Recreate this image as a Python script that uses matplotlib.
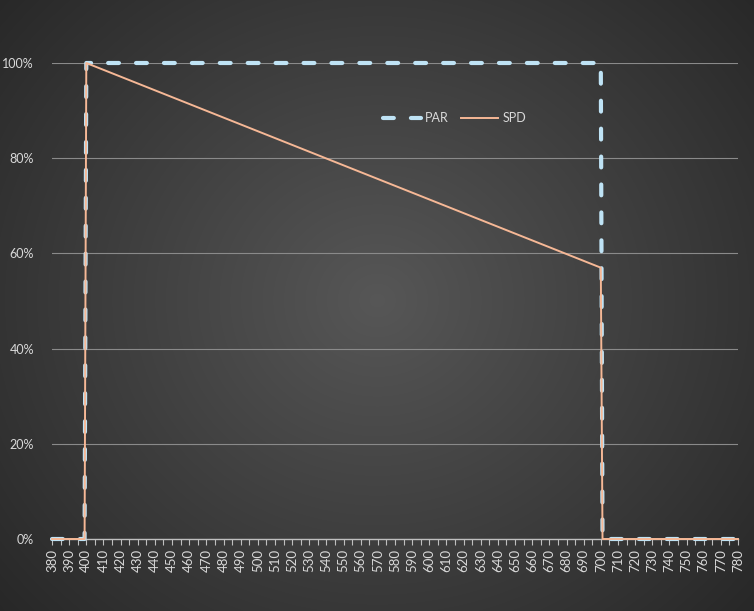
import matplotlib
matplotlib.use("Agg")
import matplotlib.pyplot as plt
import numpy as np
from matplotlib.ticker import MultipleLocator, PercentFormatter

plt.rcParams['font.family'] = ['Lato', 'DejaVu Sans']

# data (wavelength nm, relative %)
par_wl = [380, 399, 400, 700, 701, 780]
par_val = [0, 0, 100, 100, 0, 0]
spd_wl = [380, 399, 400, 700, 701, 780]
spd_val = [0, 0, 100, 57, 0, 0]

PAR_C = "#bfe3f5"
SPD_C = "#f6b896"
TXT = "#d9d9d9"
GRID = "#8a8a8a"

fig = plt.figure(figsize=(7.54, 6.11), dpi=100)

# radial gradient background
bg = fig.add_axes([0, 0, 1, 1], zorder=0)
bg.axis("off")
yy, xx = np.mgrid[0:611, 0:754]
r = np.sqrt(((xx - 377) / 520.0) ** 2 + ((yy - 300) / 480.0) ** 2)
r = np.clip(r, 0, 1)
lum = 0.34 - (0.34 - 0.15) * r
img = np.dstack([lum, lum, lum])
bg.imshow(img, extent=[0, 1, 0, 1], aspect="auto", origin="upper")
bg.set_xlim(0, 1); bg.set_ylim(0, 1)

ax = fig.add_axes([52/754, 1 - 539/611, 686/754, 476/611], zorder=1)
ax.patch.set_alpha(0)
for s in ax.spines.values():
    s.set_visible(False)
ax.spines["bottom"].set_visible(True)
ax.spines["bottom"].set_color("#bfbfbf")
ax.spines["bottom"].set_linewidth(1.0)

ax.set_xlim(380, 780)
ax.set_ylim(0, 100)
ax.yaxis.set_major_locator(MultipleLocator(20))
ax.yaxis.set_major_formatter(PercentFormatter(decimals=0))
ax.xaxis.set_major_locator(MultipleLocator(10))
ax.xaxis.set_minor_locator(MultipleLocator(5))
ax.grid(axis="y", color=GRID, lw=0.8)
ax.set_axisbelow(True)

ax.tick_params(axis="y", length=0, pad=13, labelcolor=TXT, labelsize=9)
ax.tick_params(axis="x", which="both", direction="out", length=4, width=0.8,
               color="#bfbfbf", labelcolor=TXT, labelsize=9.5, labelrotation=90, pad=3)

ax.plot(par_wl, par_val, color=PAR_C, lw=3, dashes=(2.6, 4.1),
        dash_capstyle="round", label="PAR", zorder=3, clip_on=False)
ax.plot(spd_wl, spd_val, color=SPD_C, lw=1.4, label="SPD", zorder=4, clip_on=False)

ax.legend(loc="center", bbox_to_anchor=(0.587, 0.884), ncol=2, frameon=False,
          fontsize=9, labelcolor=TXT, handlelength=3.0, handletextpad=0.3,
          columnspacing=1.0)

fig.savefig("out.png", dpi=100)
